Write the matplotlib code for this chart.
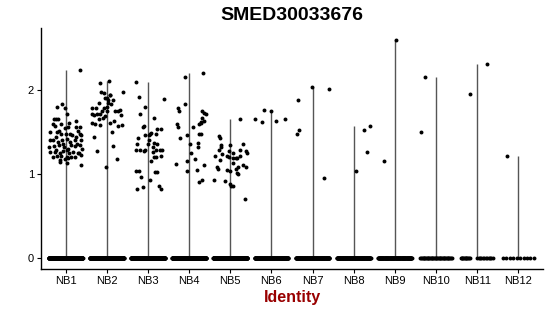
import numpy as np
import matplotlib
matplotlib.use("Agg")
import matplotlib.pyplot as plt

plt.rcParams['font.family'] = ['Liberation Sans', 'DejaVu Sans']

title = "SMED30033676"
categories = ["NB1", "NB2", "NB3", "NB4", "NB5", "NB6", "NB7", "NB8", "NB9", "NB10", "NB11", "NB12"]
y_ticks = [0, 1, 2]

# non-zero expression values and their jitter offsets
vals = {
    "NB1": [2.24, 1.83, 1.80, 1.78, 1.72, 1.66, 1.65, 1.65, 1.59, 1.61, 1.63,
            1.57, 1.59, 1.55, 1.56, 1.56, 1.56, 1.51, 1.51,
            1.50, 1.50, 1.48, 1.48, 1.48, 1.47, 1.48, 1.44, 1.44, 1.46,
            1.40, 1.40, 1.38, 1.40, 1.42, 1.38, 1.40, 1.40, 1.36, 1.36,
            1.32, 1.33, 1.34, 1.32, 1.30, 1.35, 1.33, 1.35, 1.30, 1.29, 1.29,
            1.26, 1.26, 1.25, 1.27, 1.25, 1.26, 1.25, 1.23, 1.22, 1.21, 1.20,
            1.20, 1.17, 1.18, 1.20, 1.20, 1.25, 1.14, 1.19, 1.11, 1.13],
    "NB2": [2.08, 2.11, 1.98, 1.97, 1.94, 1.90, 1.90, 1.88, 1.94, 1.88, 1.78, 1.84,
            1.98, 1.83, 1.76, 1.75, 1.78, 1.71, 1.70, 1.75, 1.71, 1.71, 1.61, 1.59,
            1.58, 1.75, 1.75, 1.70, 1.61, 1.58, 1.57, 1.44, 1.27, 1.50, 1.33, 1.08,
            1.18, 1.63, 1.65, 1.67, 1.69, 1.80, 1.79, 1.85],
    "NB3": [2.10, 1.92, 1.80, 1.72, 1.67, 1.89, 1.57, 1.56, 1.43, 1.36, 1.28,
            1.28, 1.27, 1.46, 1.48, 1.49, 1.48, 1.53, 1.54, 1.36, 1.40, 1.37,
            1.32, 1.28, 1.28, 1.28, 1.28, 1.26, 1.22, 1.20, 1.16, 1.03, 0.96,
            1.03, 0.93, 0.85, 1.02, 1.02, 0.86, 0.82, 0.82, 1.47, 1.20, 1.36],
    "NB4": [2.15, 2.20, 1.78, 1.75, 1.83, 1.59, 1.56, 1.43, 1.46, 1.56, 1.59,
            1.75, 1.67, 1.73, 1.62, 1.72, 1.63, 1.61, 1.48, 1.36, 1.37, 1.32,
            1.25, 1.18, 1.15, 1.04, 1.12, 1.05, 0.91, 0.93, 1.11, 1.48],
    "NB5": [1.66, 1.45, 1.43, 1.34, 1.32, 1.28, 1.21, 1.24, 1.17, 1.21, 1.27,
            1.25, 1.35, 1.20, 1.08, 1.06, 1.05, 1.04, 1.08, 1.01, 1.36, 1.27,
            1.25, 1.29, 1.19, 1.19, 1.19, 1.11, 1.08, 0.86, 0.86, 1.00, 0.70,
            0.93, 0.92, 0.88, 1.22, 1.13, 1.06],
    "NB6": [1.66, 1.62, 1.76, 1.75, 1.63, 1.65],
    "NB7": [1.88, 1.48, 1.52, 2.03, 2.01, 0.95],
    "NB8": [1.52, 1.57, 1.26, 1.04],
    "NB9": [2.60, 1.15],
    "NB10": [2.16, 1.50],
    "NB11": [2.31, 1.95],
    "NB12": [1.21],
}
offs = {
    "NB1": [0.34, -0.10, -0.21, -0.02, 0.02, -0.28, -0.24, -0.18, -0.31, 0.08, 0.26,
            -0.27, -0.11, -0.02, 0.06, 0.24, 0.34, 0.30, -0.16,
            -0.39, -0.21, -0.11, 0.00, 0.10, 0.16, 0.34, -0.24, 0.26, 0.38,
            -0.39, -0.31, -0.19, -0.08, 0.02, 0.11, 0.23, 0.37, 0.28, -0.06,
            -0.41, -0.29, -0.16, -0.03, 0.06, 0.14, 0.22, 0.34, 0.39, -0.23, 0.02,
            -0.39, -0.27, -0.15, -0.06, 0.08, 0.18, 0.32, 0.36, -0.21, -0.11, 0.02,
            -0.31, -0.13, -0.02, 0.14, 0.22, 0.30, -0.15, 0.06, 0.38, 0.02],
    "NB2": [-0.17, 0.06, -0.13, -0.07, 0.07, -0.04, 0.01, 0.03, 0.07, 0.15, -0.27, -0.20,
            0.40, 0.11, 0.32, 0.01, -0.35, -0.37, -0.32, -0.11, -0.17, -0.25, -0.37, -0.29,
            -0.17, 0.20, 0.28, 0.35, 0.07, 0.38, 0.28, -0.31, -0.24, 0.12, 0.15, -0.02,
            0.25, 0.17, -0.20, -0.09, -0.04, 0.01, -0.07, 0.04],
    "NB3": [-0.28, -0.22, -0.07, -0.20, 0.14, 0.40, -0.10, -0.12, -0.24, -0.27, -0.28,
            -0.20, -0.09, 0.02, 0.06, 0.08, 0.20, 0.22, 0.32, 0.01, 0.02, 0.15,
            0.11, 0.20, 0.28, 0.33, -0.07, 0.12, 0.32, 0.19, 0.08, -0.28, -0.16,
            -0.22, 0.04, -0.11, 0.17, 0.22, 0.27, 0.32, -0.27, -0.07, 0.14, 0.23],
    "NB4": [-0.10, 0.33, -0.28, -0.24, -0.09, -0.29, -0.28, -0.22, -0.06, 0.10, 0.24,
            0.31, 0.32, 0.37, 0.29, 0.40, 0.36, 0.29, 0.24, 0.03, 0.21, 0.22,
            0.05, 0.14, -0.05, -0.05, -0.33, 0.20, 0.24, 0.32, 0.35, 0.28],
    "NB5": [0.24, -0.28, -0.26, -0.23, -0.22, -0.27, -0.36, -0.19, -0.24, -0.09, -0.02,
            0.07, -0.01, -0.04, -0.33, -0.29, -0.07, -0.01, 0.19, 0.17, 0.32, 0.37,
            0.40, 0.24, 0.07, 0.17, 0.14, 0.32, 0.37, 0.02, 0.07, 0.19, 0.35,
            -0.40, -0.12, -0.01, 0.24, 0.07, 0.15],
    "NB6": [-0.39, -0.24, -0.17, -0.02, 0.12, 0.33],
    "NB7": [-0.36, -0.38, -0.32, -0.02, 0.41, 0.28],
    "NB8": [0.26, 0.39, 0.33, 0.05],
    "NB9": [0.02, -0.26],
    "NB10": [-0.27, -0.37],
    "NB11": [0.25, -0.18],
    "NB12": [-0.27],
}
# number of cells with zero expression (estimated from band density)
zero_counts = [400, 400, 400, 400, 400, 150, 150, 150, 130, 40, 24, 10]

fig = plt.figure(figsize=(5.5, 3.16), dpi=100)
ax = fig.add_axes([41/550, 1 - 269/316, (543-41)/550, (269-28)/316])

pos = np.arange(1, len(categories) + 1)
for i, cat in enumerate(categories):
    v = np.array(vals[cat])
    o = np.array(offs[cat])
    top = v.max()
    ax.vlines(pos[i], 0, top, color="#555555", lw=1.0, zorder=1)
    n0 = zero_counts[i]
    if n0 > 60:
        zo = np.linspace(-0.41, 0.41, n0)
    elif cat == "NB11":
        zo = np.concatenate([np.linspace(-0.4, -0.18, n0 // 2), np.linspace(0.0, 0.38, n0 - n0 // 2)])
    else:
        zo = np.linspace(-0.38, 0.38, n0)
    ax.scatter(pos[i] + zo, np.zeros(n0), s=8, color="black", linewidths=0, zorder=2)
    ax.scatter(pos[i] + o, v, s=8, color="black", linewidths=0, zorder=2)

ax.set_xlim(0.4, len(categories) + 0.6)
ax.set_ylim(-0.131, 2.738)
ax.set_xticks(pos)
ax.set_xticklabels(categories, fontsize=8)
ax.set_yticks(y_ticks)
ax.set_yticklabels([str(t) for t in y_ticks], fontsize=8)
ax.tick_params(length=3, width=0.8, pad=2, colors="black")
for s in ["top", "right"]:
    ax.spines[s].set_visible(False)
for s in ["left", "bottom"]:
    ax.spines[s].set_linewidth(1.0)
ax.set_xlabel("Identity", fontsize=11.5, fontweight="bold", color="#990000", labelpad=3)
fig.text(292/550, 1 - 16/316, title, fontsize=14, fontweight="bold", ha="center", va="center")

fig.savefig("out.png", dpi=100)
